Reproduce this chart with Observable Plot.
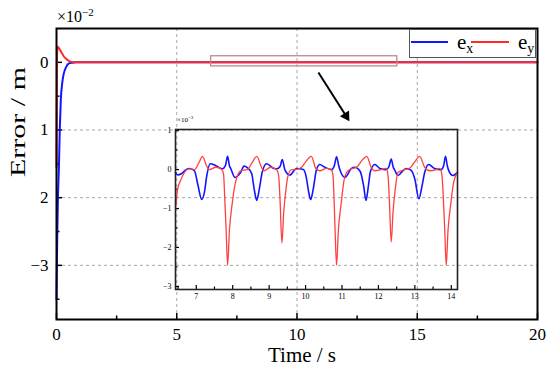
<!DOCTYPE html>
<html><head><meta charset="utf-8">
<script src="https://cdn.jsdelivr.net/npm/d3@7"></script>
<script src="https://cdn.jsdelivr.net/npm/@observablehq/plot@0.6"></script>
<style>
body{margin:0;background:#fff;}
#wrap{position:relative;width:550px;height:379px;font-family:"Liberation Serif","Times New Roman",serif;color:#000;overflow:hidden;}
#wrap svg{position:absolute;}
.lbl{position:absolute;white-space:nowrap;line-height:1;}
#legend{position:absolute;left:409px;top:29px;width:125px;height:27px;border:1.5px solid #555;background:#fff;}
</style>
</head><body><div id="wrap"></div>
<script>
// ---------- data (×10^-2 m for main, ×10^-3 m for inset) ----------
const exTime = [0, 0.03, 0.06, 0.1, 0.14, 0.18, 0.24, 0.3, 0.4, 0.5, 0.65, 0.8, 1, 20];
const exValue = [-3.5, -2.6, -2.0, -1.55, -0.95, -0.55, -0.3, -0.17, -0.07, -0.02, -0.005, 0, 0, 0];
const eyTime = [0, 0.02, 0.05, 0.1, 0.2, 0.3, 0.44, 0.55, 0.7, 0.9, 20];
const eyValue = [-1.55, 0.1, 0.23, 0.21, 0.15, 0.09, 0.04, 0.015, 0.003, 0, 0];

const insetExTime = [6.43,6.49,6.6,6.72,6.81,6.95,7.04,7.15,7.22,7.29,7.38,7.54,7.72,7.8,7.86,7.91,7.95,8.06,8.22,8.31,8.4,8.52,8.59,8.66,8.73,8.81,8.93,9.13,9.21,9.3,9.36,9.43,9.57,9.75,9.94,10.02,10.08,10.14,10.21,10.3,10.39,10.53,10.71,10.79,10.85,10.91,10.94,11.08,11.26,11.35,11.5,11.59,11.66,11.72,11.78,11.9,12.04,12.21,12.29,12.35,12.41,12.44,12.54,12.67,12.76,12.9,13.0,13.11,13.19,13.27,13.38,13.54,13.72,13.79,13.84,13.89,13.92,14.04,14.17];
const insetExValue = [-0.07,-0.14,-0.1,0.0,0.03,-0.03,-0.37,-0.77,-0.6,-0.15,0.15,0.1,0.02,0.1,0.34,0.1,0.02,-0.2,-0.07,0.09,0.05,-0.1,-0.5,-0.79,-0.5,-0.07,0.15,0.03,0.02,0.08,0.26,0.0,-0.14,0.03,0.0,-0.2,-0.55,-0.77,-0.5,0.0,0.13,0.06,0.0,0.1,0.33,0.1,0.0,-0.2,0.03,0.06,-0.05,-0.4,-0.79,-0.45,-0.05,0.13,0.03,0.0,0.08,0.27,0.05,0.0,-0.15,-0.03,0.03,-0.02,-0.25,-0.75,-0.45,-0.07,0.13,0.03,0.0,0.1,0.34,0.1,0.0,-0.15,-0.07];
const insetEyTime = [6.43,6.49,6.56,6.63,6.72,6.81,6.95,7.08,7.17,7.28,7.36,7.54,7.7,7.75,7.78,7.82,7.86,7.91,7.99,8.06,8.13,8.22,8.4,8.54,8.66,8.79,8.86,9.04,9.2,9.26,9.3,9.35,9.4,9.45,9.52,9.62,9.71,9.89,10.0,10.16,10.28,10.39,10.57,10.7,10.75,10.78,10.81,10.85,10.9,10.98,11.05,11.12,11.21,11.4,11.58,11.68,11.8,11.89,12.08,12.21,12.26,12.3,12.35,12.4,12.45,12.54,12.72,12.85,12.99,13.13,13.27,13.41,13.59,13.68,13.74,13.78,13.82,13.86,13.91,13.99,14.06,14.12,14.17];
const insetEyValue = [-1.0,-0.5,-0.3,-0.15,-0.02,0.02,0.0,0.19,0.34,0.1,0.0,0.06,0.0,-0.12,-0.7,-1.56,-2.46,-1.56,-0.85,-0.4,-0.15,-0.03,0.0,0.19,0.34,0.06,-0.03,0.06,0.0,-0.15,-0.79,-1.89,-1.1,-0.6,-0.15,0.0,0.0,0.06,0.2,0.34,0.03,-0.03,0.03,0.0,-0.12,-0.7,-1.56,-2.46,-1.56,-0.85,-0.3,-0.08,0.0,0.06,0.27,0.34,0.06,-0.03,0.0,0.03,-0.12,-0.79,-1.86,-1.1,-0.6,-0.07,0.0,0.03,0.19,0.34,0.06,-0.03,0.0,0.03,-0.12,-0.7,-1.56,-2.46,-1.56,-0.85,-0.35,-0.15,-0.07];

// axes / ticks
const mainXDomain = [0, 20];
const mainYDomain = [-3.8, 0.5];
const mainXTicks = [0, 5, 10, 15, 20];
const mainXMinor = [2.5, 7.5, 12.5, 17.5];
const mainYTicks = [0, -1, -2, -3];
const mainYTickLabels = ["0", "1", "2", "\u22123"];
const mainYMinor = [-0.5, -1.5, -2.5, -3.5];
const mainXGrid = [5, 10, 15];
const mainYGrid = [-1, -2, -3];
const insetXDomain = [6.43, 14.17];
const insetYDomain = [-3.08, 1.03];
const insetXTicks = [7, 8, 9, 10, 11, 12, 13, 14];
const insetXMinor = [6.5, 7.5, 8.5, 9.5, 10.5, 11.5, 12.5, 13.5];
const insetYTicks = [1, 0, -1, -2, -3];
const insetYMinor = [0.5, -0.5, -1.5, -2.5];
const boxY = [-0.06, 0.09];
const arrowFrom = [10.89, -0.15];
const arrowTo = [12.18, -0.87];
const xLabel = "Time / s";
const yLabel = "Error / m";
const seriesNames = ["e", "x", "e", "y"];

const BLUE = "#1414ff", RED = "#ff2b2b";
const exData = exTime.map((t, i) => ({t, v: exValue[i]}));
const eyData = eyTime.map((t, i) => ({t, v: eyValue[i]}));
const iex = insetExTime.map((t, i) => ({t, v: insetExValue[i]}));
const iey = insetEyTime.map((t, i) => ({t, v: insetEyValue[i]}));

// main chart
const mW = 550, mH = 379, mL = 56, mR = 13, mT = 28, mB = 60;
const iw = mW - mL - mR, ih = mH - mT - mB;
const headPt = {x: arrowFrom[0] + (arrowTo[0]-arrowFrom[0])*0.893, y: arrowFrom[1] + (arrowTo[1]-arrowFrom[1])*0.893};
const main = Plot.plot({
  width: mW, height: mH, marginLeft: mL, marginRight: mR, marginTop: mT, marginBottom: mB,
  style: {fontFamily: "Liberation Serif", fontSize: "17px", color: "black", background: "transparent", overflow: "visible"},
  x: {domain: mainXDomain},
  y: {domain: mainYDomain},
  marks: [
    Plot.ruleX(mainXGrid, {stroke: "#a8a8a8", strokeDasharray: "3,3", strokeWidth: 1}),
    Plot.ruleY(mainYGrid, {stroke: "#a8a8a8", strokeDasharray: "3,3", strokeWidth: 1}),
    Plot.ruleX(mainXTicks, {insetTop: ih - 6, stroke: "black", strokeWidth: 1.5}),
    Plot.ruleX(mainXMinor, {insetTop: ih - 3.5, stroke: "black", strokeWidth: 1.5}),
    Plot.ruleY(mainYTicks, {insetRight: iw - 6, stroke: "black", strokeWidth: 1.5}),
    Plot.ruleY(mainYMinor, {insetRight: iw - 3.5, stroke: "black", strokeWidth: 1.5}),
    Plot.axisX({ticks: mainXTicks, tickSize: 0, tickPadding: 8, label: null, tickFormat: d => String(d)}),
    Plot.axisY({ticks: mainYTicks, tickSize: 0, tickPadding: 8, label: null, tickFormat: d => mainYTickLabels[mainYTicks.indexOf(d)]}),
    Plot.text([xLabel], {text: d => d, frameAnchor: "bottom", dy: 42, dx: 5, fontSize: 21}),
    Plot.text([yLabel], {text: d => d, frameAnchor: "left", rotate: -90, dx: -39, dy: 3, fontSize: 22}),
    Plot.line(exData, {x: "t", y: "v", stroke: BLUE, strokeWidth: 2, curve: "monotone-x"}),
    Plot.line(eyData, {x: "t", y: "v", stroke: RED, strokeWidth: 2, curve: "monotone-x"}),
    Plot.rect([0], {x1: insetXDomain[0], x2: insetXDomain[1], y1: boxY[0], y2: boxY[1], fill: "none", stroke: "#b98c8c", strokeWidth: 1.3}),
    Plot.link([0], {x1: arrowFrom[0], y1: arrowFrom[1], x2: headPt.x, y2: headPt.y, stroke: "black", strokeWidth: 2}),
    Plot.dot([0], {x: headPt.x, y: headPt.y, symbol: "triangle", r: 4, fill: "black", stroke: "none", rotate: 148}),
    Plot.frame({stroke: "black", strokeWidth: 2})
  ]
});
main.style.left = "0px"; main.style.top = "0px";
const wrap = document.getElementById("wrap");
wrap.appendChild(main);

// stretch y label to match reference length
for (const t of main.querySelectorAll("text")) {
  if (t.textContent === yLabel) { t.setAttribute("textLength", "110"); t.setAttribute("lengthAdjust", "spacingAndGlyphs"); }
}

// inset
const iW = 320, iH = 200, iL = 25, iR = 13, iT = 19, iB = 21;
const iiw = iW - iL - iR, iih = iH - iT - iB;
const inset = Plot.plot({
  width: iW, height: iH, marginLeft: iL, marginRight: iR, marginTop: iT, marginBottom: iB,
  style: {fontFamily: "Liberation Serif", fontSize: "8px", color: "black", background: "transparent", overflow: "visible"},
  x: {domain: insetXDomain},
  y: {domain: insetYDomain},
  marks: [
    Plot.ruleX(insetXTicks, {insetTop: iih - 4, stroke: "black", strokeWidth: 1.2}),
    Plot.ruleX(insetXMinor, {insetTop: iih - 2.5, stroke: "black", strokeWidth: 1.2}),
    Plot.ruleY(insetYTicks, {insetRight: iiw - 4, stroke: "black", strokeWidth: 1.2}),
    Plot.ruleY(insetYMinor, {insetRight: iiw - 2.5, stroke: "black", strokeWidth: 1.2}),
    Plot.axisX({ticks: insetXTicks, tickSize: 0, tickPadding: 4, label: null, tickFormat: d => String(d)}),
    Plot.axisY({ticks: insetYTicks, tickSize: 0, tickPadding: 4, label: null, tickFormat: d => d < 0 ? "\u2212" + Math.abs(d) : String(d)}),
    Plot.line(iex, {x: "t", y: "v", stroke: BLUE, strokeWidth: 1.6, curve: "monotone-x"}),
    Plot.line(iey, {x: "t", y: "v", stroke: "#ff4040", strokeWidth: 1.3, curve: "monotone-x"}),
    Plot.frame({stroke: "#222", strokeWidth: 1.6})
  ]
});
inset.style.left = "150px"; inset.style.top = "110px";
wrap.appendChild(inset);

// exponent labels
function addLabel(html, left, top, size) {
  const d = document.createElement("div");
  d.className = "lbl"; d.innerHTML = html;
  d.style.left = left + "px"; d.style.top = top + "px"; d.style.fontSize = size + "px";
  wrap.appendChild(d);
}
addLabel('\u00d710<sup style="font-size:11px;vertical-align:6px">\u22122</sup>', 57, 7, 16);
addLabel('\u00d710<sup style="font-size:5px;vertical-align:3px">\u22123</sup>', 177, 115, 7);

// legend
const lg = document.createElement("div");
lg.id = "legend";
lg.innerHTML = `<svg width="125" height="27" style="position:absolute;left:0;top:0">
<line x1="1" x2="38" y1="12" y2="12" stroke="${BLUE}" stroke-width="2"/>
<line x1="61" x2="99" y1="12" y2="12" stroke="${RED}" stroke-width="2"/>
<text x="47" y="19" font-family="Liberation Serif" font-size="21">${seriesNames[0]}<tspan font-size="14" dy="4">${seriesNames[1]}</tspan></text>
<text x="108" y="19" font-family="Liberation Serif" font-size="21">${seriesNames[2]}<tspan font-size="14" dy="4">${seriesNames[3]}</tspan></text>
</svg>`;
wrap.appendChild(lg);
</script>
</body></html>
